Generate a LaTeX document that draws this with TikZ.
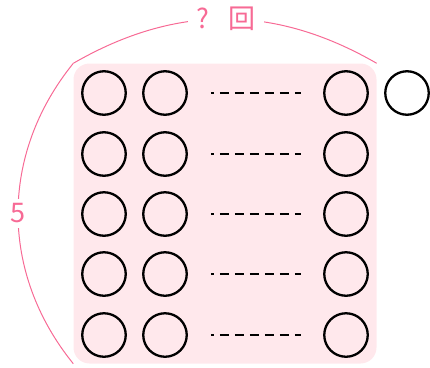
\documentclass[tikz,border=0pt]{standalone}
\usepackage{fontspec}
\newfontfamily\cjk{Noto Sans CJK SC}
\usetikzlibrary{positioning}
\definecolor{rosa}{HTML}{F76A95}
\definecolor{rosabg}{HTML}{FFE8EC}

\begin{document}
\begin{tikzpicture}[x=1pt, y=-1pt, font=\cjk\fontsize{27}{29}\selectfont,
  ball/.style={draw, circle, line width=2.3pt, inner sep=0pt, minimum size=43.5pt},
  gap/.style={draw, line width=1.5pt, dash pattern=on 9pt off 6pt, dash phase=6pt, shorten <=23pt, shorten >=22pt},
  span/.style={draw=rosa, line width=1pt},
  tag/.style={fill=white, text=rosa, inner sep=5pt}]
\useasboundingbox (0,0) rectangle (430,367);
\node[fill=rosabg, rounded corners=16pt, minimum width=303pt, minimum height=300pt] (panel) at (225,213.5) {};
% row 1
\node[ball] (r1a) at (104,93) {};
\node[ball] (r1b) at (165,93) {};
\node[ball] (r1z) at (346,93) {};
\node[ball] (r1x) at (407,93) {};
% row 2
\node[ball] (r2a) at (104,154) {};
\node[ball] (r2b) at (165,154) {};
\node[ball] (r2z) at (346,154) {};
% row 3
\node[ball] (r3a) at (104,214) {};
\node[ball] (r3b) at (165,214) {};
\node[ball] (r3z) at (346,214) {};
% row 4
\node[ball] (r4a) at (104,274) {};
\node[ball] (r4b) at (165,274) {};
\node[ball] (r4z) at (346,274) {};
% row 5
\node[ball] (r5a) at (104,335) {};
\node[ball] (r5b) at (165,335) {};
\node[ball] (r5z) at (346,335) {};
\draw[gap] (r1b) -- (r1z);
\draw[gap] (r2b) -- (r2z);
\draw[gap] (r3b) -- (r3z);
\draw[gap] (r4b) -- (r4z);
\draw[gap] (r5b) -- (r5z);
% spans
\draw[span] (panel.north west) to[bend left=30] node[tag, inner xsep=9pt, xshift=1pt] (cols) {?\hspace{19pt}回} (panel.north east);
\draw[span] (panel.south west) to[bend left=39] node[tag] (rows) {5} (panel.north west);
\end{tikzpicture}
\end{document}
